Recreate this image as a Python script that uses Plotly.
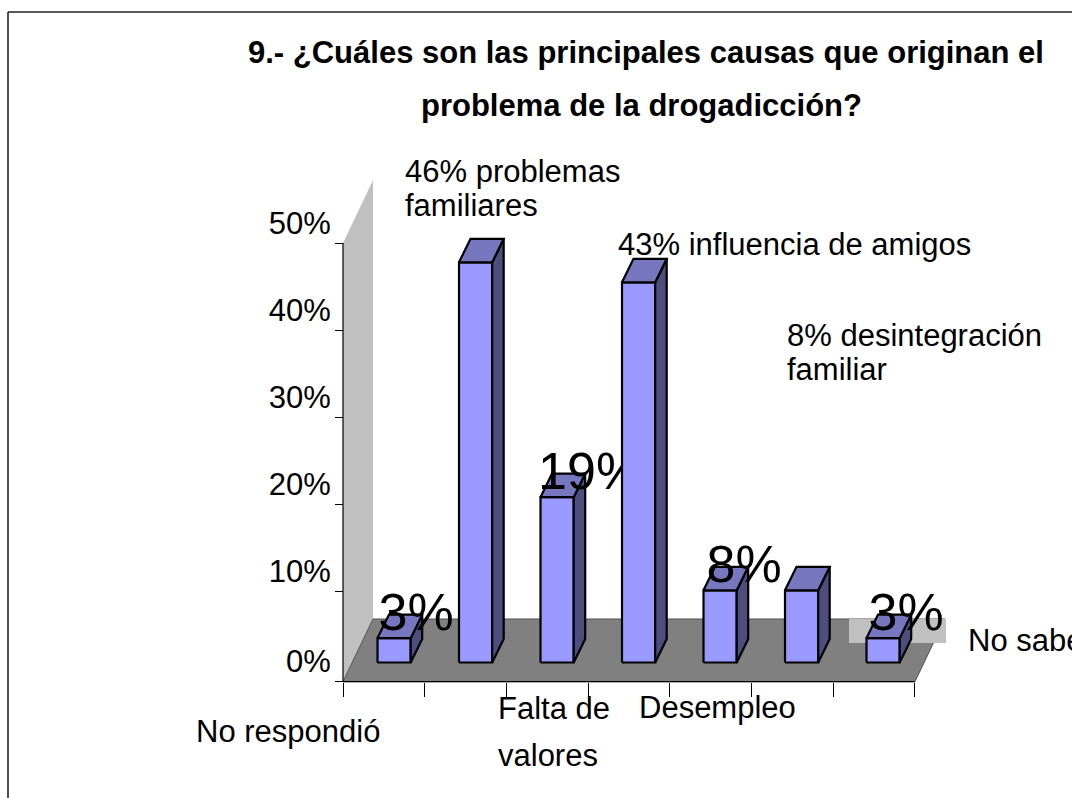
import plotly.graph_objects as go

# ---- data ----
categories = ["No respondió", "problemas familiares", "Falta de valores",
              "influencia de amigos", "Desempleo", "desintegración familiar", "No sabe"]
values = [2.8, 46, 19, 43.7, 8.3, 8.3, 2.8]
bar_labels = ["3%", "", "19%", "", "8%", "", "3%"]
y_tick_values = [-0.4, 10, 20, 30, 40, 50]
y_tick_labels = ["0%", "10%", "20%", "30%", "40%", "50%"]
x_tick_values = [0, 1, 2, 3, 4, 5, 6, 7]
title_lines = [("9.- ¿Cuáles son las principales causas que originan el", 645.5, 53),
               ("problema de la drogadicción?", 641.5, 106)]
free_lines = [("46% problemas", 403, 171), ("familiares", 403, 205),
              ("43% influencia de amigos", 616, 244),
              ("8% desintegración", 785, 335), ("familiar", 785, 370),
              ("No respondió", 194, 731), ("Falta de", 496, 708), ("valores", 496, 755),
              ("Desempleo", 637, 707), ("No sabe", 966, 640)]

# ---- page and scale ----
W, H = 1072, 798
FONT = "Liberation Sans"
px_x0, px_per_cat = 343.0, 81.71
px_y0, px_per_pct = 678.0, 8.7
FLOOR_Y = -0.42


def X(px):
    return (px - px_x0) / px_per_cat


def Y(px):
    return (px_y0 - px) / px_per_pct


DEPTH_X = X(373) - X(343)          # floor/wall depth
DEPTH_Y = Y(619) - Y(681.7)
BAR_W = 33.2 / px_per_cat
BAR_DX = 11.5 / px_per_cat
BAR_DY = 23.5 / px_per_pct
BAR_X0 = X(377.5)
BAR_STEP = 81.5 / px_per_cat
BAR_BASE = Y(662.5)
LABEL_DX = [22, 0, 33, 0, 24, 0, 23]     # px right of the bar centre
LABEL_DY = 21                            # px above the bar top

FRONT, TOP, SIDE = "#9999FF", "#7777BF", "#4D4D80"
WALL, FLOOR = "#C0C0C0", "#808080"
EDGE = 2.2


def poly(xs, ys, fill, line=None, width=0):
    return go.Scatter(x=xs + xs[:1], y=ys + ys[:1], mode="lines", fill="toself",
                      fillcolor=fill, hoverinfo="skip", showlegend=False,
                      line=dict(color=line or fill, width=width if line else 0, simplify=False))


def seg(xs, ys):
    return go.Scatter(x=xs, y=ys, mode="lines", hoverinfo="skip", showlegend=False,
                      line=dict(color="black", width=1.2))


fig = go.Figure()
# side wall
fig.add_trace(poly([0, DEPTH_X, DEPTH_X, 0], [FLOOR_Y, FLOOR_Y + DEPTH_Y, 50 + DEPTH_Y, 50], WALL))
# floor
fig.add_trace(poly([0, 7, 7 + DEPTH_X, DEPTH_X],
                   [FLOOR_Y, FLOOR_Y, FLOOR_Y + DEPTH_Y, FLOOR_Y + DEPTH_Y], FLOOR, "#3A3A3A", 0.8))
# light patch on the floor's far corner
fig.add_trace(poly([X(849), X(946), X(946), X(849)], [Y(643), Y(643), Y(619), Y(619)], WALL))
# axis lines
fig.add_trace(seg([0, 0], [FLOOR_Y, 50]))
fig.add_trace(seg([0, 7], [FLOOR_Y, FLOOR_Y]))

for i, v in enumerate(values):
    x0 = BAR_X0 + i * BAR_STEP
    x1 = x0 + BAR_W
    y0, y1 = BAR_BASE, BAR_BASE + v
    fig.add_trace(poly([x0, x1, x1, x0], [y0, y0, y1, y1], FRONT, "black", EDGE))
    fig.add_trace(poly([x1, x1 + BAR_DX, x1 + BAR_DX, x1],
                       [y0, y0 + BAR_DY, y1 + BAR_DY, y1], SIDE, "black", EDGE))
    fig.add_trace(poly([x0, x1, x1 + BAR_DX, x0 + BAR_DX],
                       [y1, y1, y1 + BAR_DY, y1 + BAR_DY], TOP, "black", EDGE))
    if bar_labels[i]:
        fig.add_trace(go.Scatter(x=[(x0 + x1) / 2 + LABEL_DX[i] / px_per_cat],
                                 y=[y1 + LABEL_DY / px_per_pct],
                                 mode="text", text=[bar_labels[i]], textposition="middle center",
                                 textfont=dict(family=FONT, size=52, color="black"),
                                 hoverinfo="skip", showlegend=False))

annotations = []
for text, cx, cy in title_lines:
    annotations.append(dict(text=f"<b>{text}</b>", x=cx / W, y=1 - cy / H, xref="paper", yref="paper",
                            xanchor="center", yanchor="middle", showarrow=False,
                            font=dict(family=FONT, size=31, color="black")))
for text, lx, cy in free_lines:
    annotations.append(dict(text=text, x=lx / W, y=1 - cy / H, xref="paper", yref="paper",
                            xanchor="left", yanchor="middle", showarrow=False,
                            font=dict(family=FONT, size=31, color="black")))

fig.update_layout(
    width=W, height=H, margin=dict(l=0, r=0, t=0, b=0),
    paper_bgcolor="white", plot_bgcolor="white", showlegend=False,
    annotations=annotations,
    shapes=[
        dict(type="line", xref="paper", yref="paper", x0=8 / W, x1=8 / W, y0=0, y1=1 - 12 / H,
             line=dict(color="#222222", width=1.6)),
        dict(type="line", xref="paper", yref="paper", x0=8 / W, x1=1, y0=1 - 12 / H, y1=1 - 12 / H,
             line=dict(color="#222222", width=1.6)),
    ],
    xaxis=dict(range=[X(0), X(W)], domain=[0, 1], showgrid=False, zeroline=False, showline=False,
               tickmode="array", tickvals=x_tick_values, ticktext=[""] * 8,
               ticks="outside", ticklen=14, tickwidth=1.2, tickcolor="black",
               anchor="free", position=1 - 681.7 / H, layer="below traces"),
    yaxis=dict(range=[Y(H), Y(0)], domain=[0, 1], showgrid=False, zeroline=False, showline=False,
               tickmode="array", tickvals=y_tick_values, ticktext=y_tick_labels,
               ticks="outside", ticklen=8, tickwidth=1.2, tickcolor="black",
               tickfont=dict(family=FONT, size=31, color="black"),
               ticklabelshift=-20, ticklabelstandoff=-2,
               anchor="free", position=343 / W, layer="below traces"),
)

fig.write_html("out.html", config={"displayModeBar": False},
               post_script="document.body.style.margin='0';document.body.style.overflow='hidden';")
